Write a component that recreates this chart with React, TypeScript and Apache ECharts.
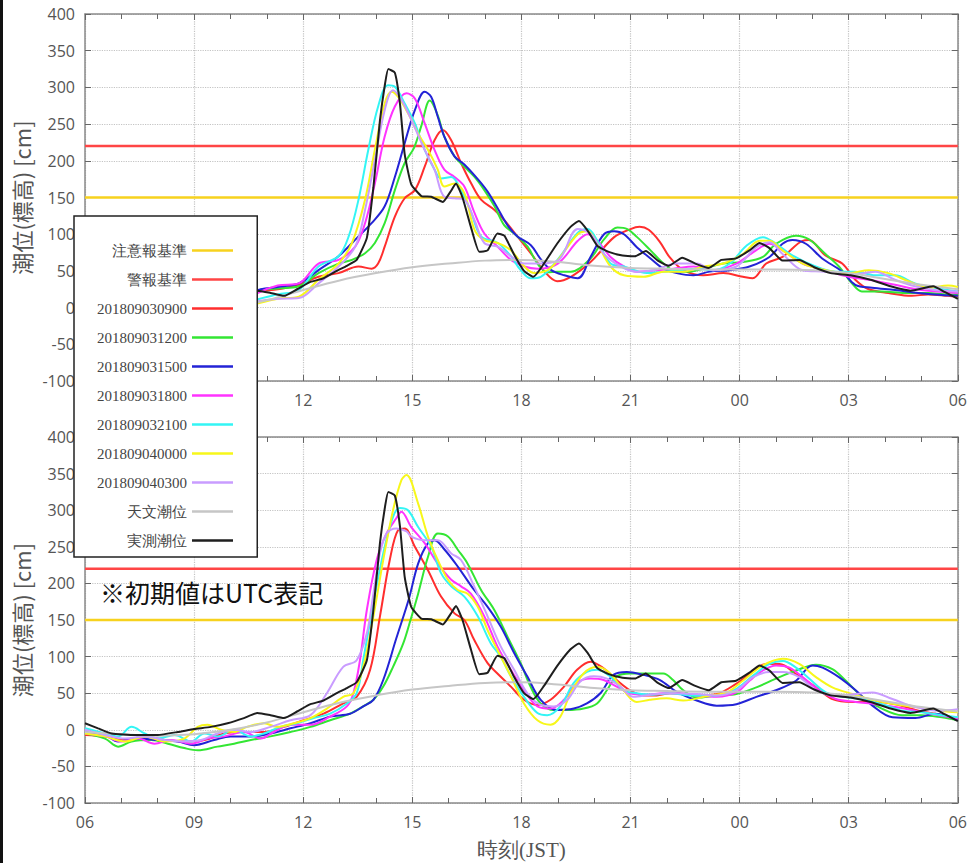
import React, { useEffect, useRef } from 'react';
import * as echarts from 'echarts';

// x = hours elapsed since 06:00 JST (0..24); y = tide level [cm]
const X_TICK_LABELS = ['06', '09', '12', '15', '18', '21', '00', '03', '06'];
const WARN_LEVEL = 220; // 警報基準
const ADVISORY_LEVEL = 150; // 注意報基準

const SERIES_NAMES = [
  '201809030900', '201809031200', '201809031500', '201809031800',
  '201809032100', '201809040000', '201809040300',
];
const SERIES_COLORS = ['#ff2e2e', '#33e633', '#2323d6', '#ff33ff', '#33f5f5', '#f7f71a', '#c99cff'];

// 天文潮位 (astronomical tide), same in both panels
const ASTRO_TIDE: number[][] = [
  [0, -3], [1, -6], [2, -8], [3, -6], [4, 0], [5, 10], [6, 24], [7, 37], [8, 47], [9, 55], [10, 60],
  [11, 64], [12, 65], [13, 62], [14, 57], [15, 54], [16, 53], [17, 52], [18, 52], [19, 52], [20, 51],
  [21, 47], [22, 39], [23, 31], [24, 25],
];

// 実測潮位 (observed), same in both panels
const OBSERVED: number[][] = [
  [0, 9], [0.36, 2], [0.73, -5], [1.37, -7], [2.0, -7], [2.55, -3], [3.0, 1], [3.46, 4], [3.92, 9],
  [4.37, 16], [4.74, 23], [5.1, 20], [5.47, 16], [5.83, 25], [6.2, 35], [6.56, 40], [6.92, 50],
  [7.2, 57], [7.47, 65], [7.75, 95], [7.93, 164], [8.11, 255], [8.25, 305], [8.34, 325], [8.52, 320],
  [8.66, 278], [8.79, 209], [8.97, 168], [9.25, 152], [9.52, 151], [9.84, 144], [10.05, 158],
  [10.2, 169], [10.38, 150], [10.61, 110], [10.84, 76], [11.07, 78], [11.34, 101], [11.53, 98],
  [11.8, 72], [12.07, 50], [12.33, 42], [12.62, 60], [12.98, 87], [13.35, 110], [13.58, 118],
  [13.82, 105], [14.09, 84], [14.4, 76], [14.78, 71], [15.12, 70], [15.42, 77], [15.75, 64],
  [16.05, 57], [16.42, 68], [16.78, 60], [17.15, 54], [17.5, 65], [17.9, 67], [18.27, 78],
  [18.55, 88], [18.82, 81], [19.18, 64], [19.64, 65], [20.05, 55], [20.5, 47], [21.05, 44],
  [21.6, 38], [22.15, 29], [22.7, 23], [23.32, 29], [23.65, 21], [24, 12],
];

// ---------- upper panel forecasts ----------
const TOP_0900: number[][] = [
  [0, -6], [1.5, -12], [3, -14], [4, -2], [4.67, 20], [5.3, 25], [5.88, 31], [6.42, 42], [6.97, 47],
  [7.52, 56], [7.88, 53], [8.06, 60], [8.24, 83], [8.52, 124], [8.79, 149], [9.07, 160], [9.34, 192],
  [9.61, 228], [9.84, 242], [10.07, 228], [10.34, 197], [10.62, 169], [10.89, 147], [11.26, 133],
  [11.53, 119], [11.89, 97], [12.26, 74], [12.62, 50], [12.98, 36], [13.36, 42], [13.9, 62],
  [14.55, 96], [15.0, 107], [15.25, 110], [15.5, 106], [15.8, 90], [16.07, 69], [16.45, 51],
  [17.0, 44], [17.55, 47], [18.09, 42], [18.36, 40], [18.73, 60], [19.18, 69], [19.73, 91],
  [19.9, 92], [20.36, 71], [20.82, 60], [21.18, 38], [21.55, 25], [22.09, 20], [22.73, 16],
  [23.18, 18], [23.73, 16], [24, 15],
];
const TOP_1200: number[][] = [
  [0, -8], [1.5, -18], [3, -25], [4, -12], [4.67, 22], [5.3, 26], [5.88, 29], [6.42, 47], [6.97, 60],
  [7.34, 65], [7.7, 74], [7.97, 88], [8.24, 115], [8.52, 160], [8.79, 197], [9.05, 218], [9.25, 248],
  [9.48, 282], [9.7, 262], [9.88, 233], [10.16, 206], [10.43, 192], [10.71, 178], [10.98, 160],
  [11.26, 138], [11.53, 112], [11.8, 101], [12.17, 83], [12.44, 60], [12.72, 48], [12.99, 49],
  [13.36, 49], [13.9, 67], [14.27, 93], [14.64, 109], [14.91, 107], [15.18, 96], [15.55, 78],
  [15.91, 60], [16.27, 49], [16.64, 49], [17.0, 53], [17.55, 60], [18.09, 62], [18.64, 69],
  [19.0, 87], [19.55, 98], [19.91, 93], [20.36, 73], [20.73, 56], [21.09, 33], [21.36, 22],
  [21.91, 22], [22.55, 20], [23.18, 20], [23.73, 18], [24, 18],
];
const TOP_1500: number[][] = [
  [0, -3], [1.5, -12], [3, -20], [4, -8], [4.67, 22], [5.3, 28], [5.88, 33], [6.42, 51], [6.97, 70],
  [7.52, 97], [7.88, 115], [8.24, 138], [8.52, 178], [8.79, 224], [9.07, 269], [9.34, 294],
  [9.52, 287], [9.7, 260], [9.88, 233], [10.16, 206], [10.43, 195], [10.8, 175], [11.07, 158],
  [11.35, 135], [11.62, 112], [11.89, 97], [12.26, 85], [12.53, 66], [12.82, 51], [13.18, 44],
  [13.55, 40], [13.9, 69], [14.27, 100], [14.55, 104], [14.82, 100], [15.18, 82], [15.55, 67],
  [15.91, 53], [16.27, 47], [16.73, 44], [17.18, 49], [17.73, 51], [18.27, 56], [18.82, 69],
  [19.18, 87], [19.45, 92], [19.82, 87], [20.27, 67], [20.82, 49], [21.18, 31], [21.64, 27],
  [22.27, 24], [22.91, 20], [23.36, 18], [24, 16],
];
const TOP_1800: number[][] = [
  [0, -5], [1.5, -14], [3, -16], [4, -4], [4.67, 18], [5.3, 30], [5.88, 33], [6.42, 60], [6.97, 65],
  [7.43, 83], [7.7, 115], [7.97, 169], [8.24, 233], [8.52, 274], [8.84, 292], [9.07, 285],
  [9.34, 251], [9.61, 215], [9.88, 188], [10.16, 178], [10.43, 165], [10.71, 129], [10.98, 101],
  [11.35, 83], [11.71, 65], [12.08, 56], [12.44, 53], [13.0, 60], [13.55, 91], [13.82, 100],
  [14.09, 91], [14.45, 69], [14.82, 56], [15.18, 49], [15.73, 51], [16.18, 53], [16.73, 56],
  [17.27, 51], [17.91, 60], [18.45, 78], [18.82, 87], [19.18, 78], [19.73, 60], [20.36, 51],
  [21.0, 42], [21.55, 38], [22.27, 31], [23.0, 24], [24, 20],
];
const TOP_2100: number[][] = [
  [0, 0], [1.5, -8], [3, -12], [4, -5], [4.67, 10], [5.3, 18], [5.88, 24], [6.42, 56], [6.97, 70],
  [7.25, 97], [7.52, 147], [7.79, 215], [8.06, 274], [8.33, 303], [8.52, 301], [8.79, 278],
  [9.07, 251], [9.34, 215], [9.61, 188], [9.79, 176], [10.07, 178], [10.34, 160], [10.62, 129],
  [10.89, 97], [11.35, 88], [11.71, 70], [11.98, 51], [12.26, 40], [12.53, 42], [12.99, 65],
  [13.55, 102], [13.82, 107], [14.09, 91], [14.45, 60], [14.82, 56], [15.45, 47], [15.91, 49],
  [16.36, 51], [16.82, 53], [17.27, 51], [17.73, 60], [18.18, 84], [18.64, 96], [19.0, 87],
  [19.45, 71], [20.09, 56], [20.64, 49], [21.18, 49], [21.73, 44], [22.27, 44], [22.82, 33],
  [23.36, 27], [24, 22],
];
const TOP_0000: number[][] = [
  [0, -5], [1.5, -12], [3, 2], [4, 0], [4.67, 5], [5.3, 12], [5.88, 15], [6.42, 38], [6.97, 60],
  [7.34, 88], [7.7, 147], [7.97, 215], [8.24, 278], [8.43, 294], [8.61, 287], [8.88, 265],
  [9.16, 237], [9.43, 215], [9.7, 188], [9.88, 165], [10.16, 169], [10.43, 156], [10.71, 106],
  [10.98, 92], [11.35, 88], [11.71, 78], [12.08, 56], [12.35, 47], [12.72, 51], [12.99, 64],
  [13.55, 100], [13.82, 104], [14.09, 87], [14.45, 56], [14.82, 44], [15.36, 42], [15.91, 49],
  [16.45, 49], [17.0, 56], [17.55, 60], [18.09, 73], [18.55, 91], [18.82, 91], [19.18, 78],
  [19.73, 60], [20.36, 51], [21.0, 47], [21.55, 51], [22.09, 47], [22.64, 36], [23.18, 27],
  [23.73, 30], [24, 28],
];
const TOP_0300: number[][] = [
  [0, 0], [1.5, -12], [3, -14], [4, 0], [4.67, 8], [5.3, 12], [5.88, 13], [6.42, 33], [6.97, 56],
  [7.43, 83], [7.7, 133], [7.97, 201], [8.24, 269], [8.47, 296], [8.7, 283], [8.97, 256],
  [9.34, 215], [9.61, 188], [9.88, 151], [10.16, 149], [10.43, 147], [10.71, 119], [10.98, 88],
  [11.35, 83], [11.71, 70], [12.08, 60], [12.44, 60], [13.0, 64], [13.55, 107], [13.91, 100],
  [14.27, 73], [14.73, 56], [15.18, 49], [15.64, 51], [16.27, 60], [16.82, 60], [17.27, 51],
  [17.91, 56], [18.45, 82], [18.82, 89], [19.18, 73], [19.73, 51], [20.36, 49], [21.0, 44],
  [21.73, 49], [22.27, 38], [22.82, 29], [23.36, 24], [24, 22],
];

// ---------- lower panel forecasts ----------
const BOT_0900: number[][] = [
  [0, -7], [0.55, -9], [1.1, -14], [1.64, -9], [2.19, -14], [2.73, -16], [3.28, -14], [3.83, -5],
  [4.37, -3], [4.92, -3], [5.47, 4], [6.01, 13], [6.56, 22], [7.1, 36], [7.47, 45], [7.84, 82],
  [8.11, 155], [8.38, 232], [8.61, 273], [8.79, 275], [9.07, 250], [9.43, 218], [9.79, 182],
  [10.16, 159], [10.43, 150], [10.7, 123], [11.07, 91], [11.34, 77], [11.71, 59], [12.07, 41],
  [12.44, 34], [12.8, 41], [13.17, 59], [13.53, 82], [13.9, 93], [14.26, 84], [14.62, 68],
  [14.99, 54], [15.35, 47], [15.72, 47], [16.08, 50], [16.54, 49], [16.82, 47], [17.37, 49],
  [17.91, 63], [18.27, 76], [18.73, 90], [19.1, 90], [19.55, 76], [20.1, 58], [20.55, 42],
  [21.1, 38], [21.74, 38], [22.28, 35], [22.92, 26], [23.56, 20], [24, 15],
];
const BOT_1200: number[][] = [
  [0, -5], [0.55, -12], [0.91, -23], [1.28, -16], [1.82, -14], [2.28, -19], [2.73, -25], [3.1, -28],
  [3.64, -23], [4.1, -19], [4.56, -14], [5.1, -9], [5.65, -3], [6.2, 4], [6.74, 13], [7.29, 22],
  [7.65, 32], [7.93, 41], [8.2, 59], [8.47, 86], [8.75, 118], [8.95, 150], [9.16, 186], [9.43, 236],
  [9.7, 268], [9.98, 264], [10.25, 246], [10.52, 227], [10.89, 191], [11.25, 164], [11.62, 127],
  [11.98, 91], [12.25, 59], [12.53, 36], [12.89, 27], [13.26, 27], [13.71, 29], [14.08, 36],
  [14.35, 54], [14.62, 73], [14.99, 77], [15.44, 77], [15.9, 77], [16.17, 68], [16.45, 54],
  [16.82, 44], [17.37, 47], [17.91, 49], [18.46, 58], [19.0, 70], [19.55, 81], [20.1, 89],
  [20.55, 83], [20.92, 67], [21.37, 45], [21.83, 31], [22.47, 20], [23.01, 20], [23.56, 17], [24, 13],
];
const BOT_1500: number[][] = [
  [0, -3], [0.55, -7], [0.91, -16], [1.46, -12], [2.0, -14], [2.55, -16], [3.0, -21], [3.55, -14],
  [4.0, -9], [4.56, -9], [5.1, -5], [5.65, 2], [6.2, 9], [6.74, 18], [7.29, 22], [7.65, 32],
  [7.93, 41], [8.2, 68], [8.56, 125], [8.9, 178], [9.16, 227], [9.43, 255], [9.61, 259], [9.89, 246],
  [10.25, 223], [10.7, 191], [11.07, 168], [11.43, 141], [11.8, 105], [12.16, 73], [12.53, 41],
  [12.98, 27], [13.44, 29], [13.8, 36], [14.17, 50], [14.53, 75], [14.9, 79], [15.35, 75],
  [15.81, 68], [16.26, 52], [16.82, 40], [17.37, 33], [17.91, 35], [18.46, 45], [19.0, 54],
  [19.55, 67], [20.0, 88], [20.28, 85], [20.73, 72], [21.19, 54], [21.65, 33], [22.2, 17],
  [22.83, 16], [23.38, 22], [24, 13],
];
const BOT_1800: number[][] = [
  [0, -5], [0.55, -9], [1.0, -16], [1.46, -12], [1.91, -19], [2.37, -14], [2.92, -19], [3.37, -12],
  [3.83, -9], [4.37, -3], [4.83, -12], [5.19, -3], [5.65, 7], [6.2, 7], [6.74, 18], [7.2, 32],
  [7.38, 50], [7.56, 95], [7.75, 164], [8.02, 232], [8.29, 268], [8.56, 289], [8.7, 298], [8.97, 277],
  [9.34, 255], [9.7, 227], [10.07, 205], [10.34, 196], [10.61, 186], [10.98, 155], [11.34, 114],
  [11.71, 82], [12.07, 54], [12.44, 32], [12.8, 29], [13.17, 41], [13.53, 64], [13.9, 70],
  [14.26, 68], [14.62, 59], [14.99, 50], [15.44, 48], [15.9, 50], [16.35, 50], [16.82, 47],
  [17.37, 45], [17.91, 51], [18.27, 67], [18.64, 81], [19.0, 88], [19.37, 85], [19.73, 72],
  [20.19, 54], [20.65, 42], [21.19, 38], [21.74, 35], [22.28, 31], [22.83, 26], [23.47, 20], [24, 15],
];
const BOT_2100: number[][] = [
  [0, 2], [0.55, -5], [0.91, -9], [1.28, 4], [1.64, -5], [2.0, -12], [2.46, -7], [2.92, -16],
  [3.28, -5], [3.64, -9], [4.1, 0], [4.56, -9], [4.92, -5], [5.38, 4], [5.83, 9], [6.29, 16],
  [6.74, 22], [7.2, 36], [7.47, 50], [7.65, 95], [7.93, 173], [8.2, 241], [8.47, 291], [8.66, 303],
  [8.88, 300], [9.16, 277], [9.52, 250], [9.79, 214], [10.07, 196], [10.43, 182], [10.8, 155],
  [11.16, 118], [11.43, 100], [11.71, 73], [12.07, 45], [12.44, 23], [12.71, 20], [13.07, 32],
  [13.44, 64], [13.8, 79], [14.08, 82], [14.44, 73], [14.81, 54], [15.17, 50], [15.62, 48],
  [16.08, 50], [16.63, 47], [17.37, 47], [17.91, 56], [18.37, 74], [18.82, 90], [19.19, 94],
  [19.55, 85], [19.91, 70], [20.37, 51], [20.83, 45], [21.37, 42], [21.92, 35], [22.47, 26],
  [23.01, 24], [23.56, 20], [24, 17],
];
const BOT_0000: number[][] = [
  [0, -5], [0.55, -9], [1.1, -16], [1.64, -9], [2.19, -16], [2.73, -12], [3.1, 4], [3.37, 7],
  [3.74, 0], [4.1, -3], [4.46, 4], [4.92, 9], [5.28, 4], [5.74, 9], [6.2, 16], [6.65, 29], [7.1, 45],
  [7.38, 50], [7.65, 86], [7.93, 155], [8.2, 232], [8.47, 300], [8.7, 341], [8.84, 348], [9.16, 309],
  [9.43, 264], [9.7, 232], [9.98, 205], [10.25, 191], [10.52, 186], [10.8, 168], [11.07, 136],
  [11.34, 109], [11.71, 73], [12.07, 36], [12.44, 13], [12.8, 7], [13.07, 18], [13.35, 50],
  [13.71, 77], [14.08, 86], [14.44, 77], [14.81, 54], [15.17, 38], [15.53, 41], [15.99, 43],
  [16.45, 40], [17.18, 47], [17.64, 51], [18.09, 67], [18.64, 88], [19.19, 97], [19.64, 90],
  [20.1, 72], [20.55, 58], [21.1, 49], [21.74, 40], [22.28, 35], [22.83, 31], [23.47, 26], [24, 24],
];
const BOT_0300: number[][] = [
  [0, 0], [0.55, -7], [1.1, -12], [1.64, -9], [2.19, -14], [2.73, -16], [3.19, -14], [3.64, -5],
  [4.1, 0], [4.56, -3], [5.1, 4], [5.65, 13], [6.2, 20], [6.65, 50], [7.1, 86], [7.47, 95],
  [7.75, 132], [7.93, 186], [8.11, 241], [8.29, 268], [8.56, 275], [8.84, 271], [8.97, 264],
  [9.34, 259], [9.7, 259], [10.07, 241], [10.34, 232], [10.7, 196], [11.07, 155], [11.43, 114],
  [11.8, 82], [12.16, 50], [12.53, 34], [12.89, 32], [13.26, 41], [13.62, 66], [13.99, 73],
  [14.35, 70], [14.72, 59], [15.08, 45], [15.53, 48], [16.08, 50], [16.82, 49], [17.37, 47],
  [17.91, 54], [18.37, 72], [18.82, 79], [19.19, 79], [19.64, 72], [20.1, 54], [20.65, 47],
  [21.19, 49], [21.65, 51], [22.2, 42], [22.83, 31], [23.47, 26], [24, 28],
];

const TOP_FORECASTS = [TOP_0900, TOP_1200, TOP_1500, TOP_1800, TOP_2100, TOP_0000, TOP_0300];
const BOT_FORECASTS = [BOT_0900, BOT_1200, BOT_1500, BOT_1800, BOT_2100, BOT_0000, BOT_0300];

const LEGEND_ORDER = ['注意報基準', '警報基準', ...SERIES_NAMES, '天文潮位', '実測潮位'];

const SANS = "'Open Sans', 'Noto Sans', sans-serif";
const SERIF = "'Liberation Serif', 'DejaVu Serif', serif";
const CJK = "'Noto Sans CJK JP', sans-serif";

function panelSeries(p: number, forecasts: number[][][]) {
  const xi = p * 2;
  const yi = p * 2;
  const base = { type: 'line', xAxisIndex: xi, yAxisIndex: yi, symbol: 'none', silent: true };
  const out: any[] = [
    { ...base, name: '注意報基準', data: [[0, ADVISORY_LEVEL], [24, ADVISORY_LEVEL]], lineStyle: { color: '#f7d21e', width: 2.5 }, itemStyle: { color: '#f7d21e' } },
    { ...base, name: '警報基準', data: [[0, WARN_LEVEL], [24, WARN_LEVEL]], lineStyle: { color: '#ff4545', width: 2.5 }, itemStyle: { color: '#ff4545' } },
  ];
  forecasts.forEach((d, i) => {
    out.push({ ...base, name: SERIES_NAMES[i], data: d, smooth: 0.35, lineStyle: { color: SERIES_COLORS[i], width: 2 }, itemStyle: { color: SERIES_COLORS[i] } });
  });
  out.push({ ...base, name: '天文潮位', data: ASTRO_TIDE, smooth: 0.4, lineStyle: { color: '#c6c6c6', width: 2 }, itemStyle: { color: '#c6c6c6' } });
  out.push({ ...base, name: '実測潮位', data: OBSERVED, smooth: 0.15, lineStyle: { color: '#1e1e1e', width: 2 }, itemStyle: { color: '#1e1e1e' } });
  return out;
}

function xAxes(gridIndex: number, withName: boolean) {
  const common = {
    type: 'value', gridIndex, min: 0, max: 24, interval: 3,
    axisLine: { show: true, onZero: false, lineStyle: { color: '#8a8a8a', width: 1.5 } },
    axisTick: { show: true, inside: true, length: 6, lineStyle: { color: '#666' } },
    minorTick: { show: true, splitNumber: 3, length: 5, lineStyle: { color: '#666' } },
  };
  return [
    {
      ...common, position: 'bottom',
      axisLabel: {
        show: true, margin: 11, fontSize: 16, color: '#555', fontFamily: SANS,
        formatter: (v: number) => X_TICK_LABELS[Math.round(v / 3)] ?? '',
      },
      splitLine: { show: true, lineStyle: { color: '#c4c4c4', type: 'dotted', width: 1.2 } },
      ...(withName ? {
        name: '時刻(JST)', nameLocation: 'middle', nameGap: 36,
        nameTextStyle: { fontFamily: SERIF, fontSize: 21, color: '#555' },
      } : {}),
    },
    { ...common, position: 'top', axisLabel: { show: false }, splitLine: { show: false } },
  ];
}

function yAxes(gridIndex: number) {
  const common = {
    type: 'value', gridIndex, min: -100, max: 400, interval: 50,
    axisLine: { show: true, onZero: false, lineStyle: { color: '#8a8a8a', width: 1.5 } },
    axisTick: { show: true, inside: true, length: 6, lineStyle: { color: '#666' } },
  };
  return [
    {
      ...common, position: 'left',
      axisLabel: { show: true, margin: 10, fontSize: 16, color: '#555', fontFamily: SANS },
      splitLine: { show: true, lineStyle: { color: '#c4c4c4', type: 'dotted', width: 1.2 } },
      name: '潮位(標高) [cm]', nameLocation: 'middle', nameGap: 53,
      nameTextStyle: { fontFamily: CJK, fontSize: 22, color: '#555' },
    },
    { ...common, position: 'right', axisLabel: { show: false }, splitLine: { show: false } },
  ];
}

export default function App() {
  const ref = useRef<HTMLDivElement>(null);
  useEffect(() => {
    if (!ref.current) return;
    const chart = echarts.init(ref.current, undefined, { renderer: 'svg' });
    chart.setOption({
      animation: false,
      backgroundColor: '#ffffff',
      grid: [
        { left: 85, right: 7, top: 14, height: 367 },
        { left: 85, right: 7, top: 437, height: 366 },
      ],
      xAxis: [...xAxes(0, false), ...xAxes(1, true)],
      yAxis: [...yAxes(0), ...yAxes(1)],
      legend: {
        data: LEGEND_ORDER,
        orient: 'vertical',
        left: 74,
        top: 216,
        align: 'right',
        selectedMode: false,
        itemWidth: 41,
        itemHeight: 14,
        itemGap: 14,
        padding: [27, 23, 9, 23],
        backgroundColor: '#ffffff',
        borderColor: '#222',
        borderWidth: 1.5,
        borderRadius: 0,
        z: 10,
        itemStyle: { opacity: 0 },
        lineStyle: { width: 2.5 },
        textStyle: { fontFamily: SERIF, fontSize: 15, color: '#444', lineHeight: 14 },
      },
      graphic: [
        { type: 'rect', left: 0, top: 0, shape: { width: 3, height: 863 }, style: { fill: '#111' }, z: 100 },
        {
          type: 'text', left: 100, top: 579, z: 100,
          style: { text: '※初期値はUTC表記', font: `25px ${CJK}`, fill: '#111' },
        },
      ],
      series: [...panelSeries(0, TOP_FORECASTS), ...panelSeries(1, BOT_FORECASTS)],
    });
    return () => chart.dispose();
  }, []);
  return <div ref={ref} style={{ position: 'absolute', left: 0, top: 0, width: 970, height: 863 }} />;
}
